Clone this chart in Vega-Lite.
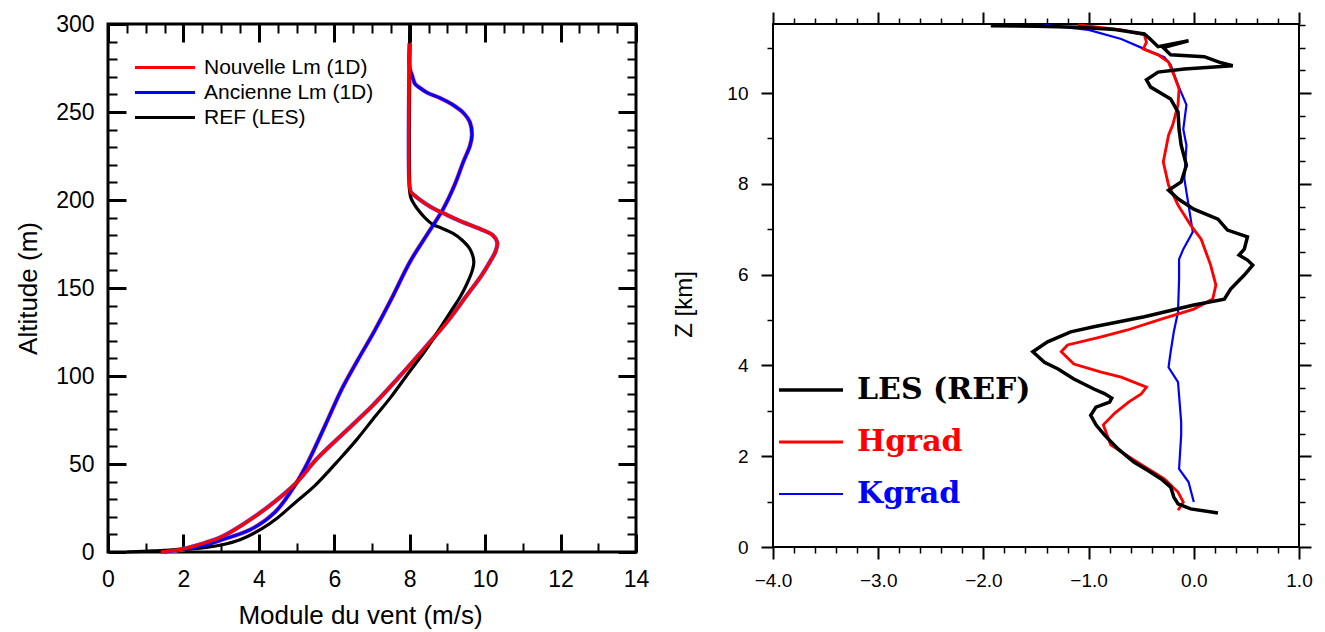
{
  "$schema": "https://vega.github.io/schema/vega-lite/v6.json",
  "background": "white",
  "padding": {"left": 14, "top": 10, "right": 5, "bottom": 2},
  "spacing": 20,
  "config": {"font": "Liberation Sans"},
  "datasets": {
    "left": [
      {"series": "REF (LES)", "u": 0.5, "alt": 0},
      {"series": "REF (LES)", "u": 1.2, "alt": 0.6},
      {"series": "REF (LES)", "u": 2.0, "alt": 1.5},
      {"series": "REF (LES)", "u": 2.6, "alt": 2.6},
      {"series": "REF (LES)", "u": 3.0, "alt": 4},
      {"series": "REF (LES)", "u": 3.5, "alt": 7},
      {"series": "REF (LES)", "u": 4.06, "alt": 13},
      {"series": "REF (LES)", "u": 4.5, "alt": 19.5},
      {"series": "REF (LES)", "u": 4.96, "alt": 28},
      {"series": "REF (LES)", "u": 5.5, "alt": 38},
      {"series": "REF (LES)", "u": 6.15, "alt": 53},
      {"series": "REF (LES)", "u": 6.6, "alt": 64},
      {"series": "REF (LES)", "u": 7.03, "alt": 75.6},
      {"series": "REF (LES)", "u": 7.5, "alt": 88},
      {"series": "REF (LES)", "u": 7.93, "alt": 100.6},
      {"series": "REF (LES)", "u": 8.4, "alt": 114},
      {"series": "REF (LES)", "u": 8.8, "alt": 127},
      {"series": "REF (LES)", "u": 9.1, "alt": 137},
      {"series": "REF (LES)", "u": 9.34, "alt": 145},
      {"series": "REF (LES)", "u": 9.53, "alt": 153},
      {"series": "REF (LES)", "u": 9.66, "alt": 160},
      {"series": "REF (LES)", "u": 9.7, "alt": 165},
      {"series": "REF (LES)", "u": 9.6, "alt": 172},
      {"series": "REF (LES)", "u": 9.4, "alt": 177},
      {"series": "REF (LES)", "u": 9.15, "alt": 181},
      {"series": "REF (LES)", "u": 8.85, "alt": 184},
      {"series": "REF (LES)", "u": 8.62, "alt": 186},
      {"series": "REF (LES)", "u": 8.4, "alt": 190},
      {"series": "REF (LES)", "u": 8.2, "alt": 195},
      {"series": "REF (LES)", "u": 8.08, "alt": 199},
      {"series": "REF (LES)", "u": 8.02, "alt": 202},
      {"series": "REF (LES)", "u": 8.0, "alt": 205},
      {"series": "REF (LES)", "u": 8.0, "alt": 300},
      {"series": "Ancienne Lm (1D)", "u": 1.5, "alt": 0},
      {"series": "Ancienne Lm (1D)", "u": 2.04, "alt": 1.7},
      {"series": "Ancienne Lm (1D)", "u": 2.5, "alt": 3.5},
      {"series": "Ancienne Lm (1D)", "u": 3.0, "alt": 6.8},
      {"series": "Ancienne Lm (1D)", "u": 3.8, "alt": 13},
      {"series": "Ancienne Lm (1D)", "u": 4.43, "alt": 22.7},
      {"series": "Ancienne Lm (1D)", "u": 4.96, "alt": 38},
      {"series": "Ancienne Lm (1D)", "u": 5.3, "alt": 51},
      {"series": "Ancienne Lm (1D)", "u": 5.76, "alt": 72},
      {"series": "Ancienne Lm (1D)", "u": 6.2, "alt": 92.6},
      {"series": "Ancienne Lm (1D)", "u": 6.62, "alt": 109},
      {"series": "Ancienne Lm (1D)", "u": 7.05, "alt": 125},
      {"series": "Ancienne Lm (1D)", "u": 7.52, "alt": 144},
      {"series": "Ancienne Lm (1D)", "u": 8.01, "alt": 165},
      {"series": "Ancienne Lm (1D)", "u": 8.45, "alt": 180},
      {"series": "Ancienne Lm (1D)", "u": 8.89, "alt": 195},
      {"series": "Ancienne Lm (1D)", "u": 9.2, "alt": 209},
      {"series": "Ancienne Lm (1D)", "u": 9.42, "alt": 221.6},
      {"series": "Ancienne Lm (1D)", "u": 9.6, "alt": 231},
      {"series": "Ancienne Lm (1D)", "u": 9.65, "alt": 237},
      {"series": "Ancienne Lm (1D)", "u": 9.6, "alt": 244},
      {"series": "Ancienne Lm (1D)", "u": 9.4, "alt": 250},
      {"series": "Ancienne Lm (1D)", "u": 9.15, "alt": 254},
      {"series": "Ancienne Lm (1D)", "u": 8.8, "alt": 258},
      {"series": "Ancienne Lm (1D)", "u": 8.46, "alt": 261},
      {"series": "Ancienne Lm (1D)", "u": 8.25, "alt": 264},
      {"series": "Ancienne Lm (1D)", "u": 8.14, "alt": 266},
      {"series": "Ancienne Lm (1D)", "u": 8.06, "alt": 271},
      {"series": "Ancienne Lm (1D)", "u": 8.0, "alt": 275},
      {"series": "Ancienne Lm (1D)", "u": 8.0, "alt": 289},
      {"series": "Nouvelle Lm (1D)", "u": 1.4, "alt": 0},
      {"series": "Nouvelle Lm (1D)", "u": 2.0, "alt": 1.8},
      {"series": "Nouvelle Lm (1D)", "u": 2.47, "alt": 4.5},
      {"series": "Nouvelle Lm (1D)", "u": 3.0, "alt": 8.5},
      {"series": "Nouvelle Lm (1D)", "u": 3.53, "alt": 15},
      {"series": "Nouvelle Lm (1D)", "u": 4.24, "alt": 25.6},
      {"series": "Nouvelle Lm (1D)", "u": 4.96, "alt": 38.6},
      {"series": "Nouvelle Lm (1D)", "u": 5.54, "alt": 53},
      {"series": "Nouvelle Lm (1D)", "u": 6.37, "alt": 70},
      {"series": "Nouvelle Lm (1D)", "u": 7.03, "alt": 83.5},
      {"series": "Nouvelle Lm (1D)", "u": 7.7, "alt": 99},
      {"series": "Nouvelle Lm (1D)", "u": 8.36, "alt": 115},
      {"series": "Nouvelle Lm (1D)", "u": 9.0, "alt": 131},
      {"series": "Nouvelle Lm (1D)", "u": 9.52, "alt": 146},
      {"series": "Nouvelle Lm (1D)", "u": 9.9, "alt": 157},
      {"series": "Nouvelle Lm (1D)", "u": 10.13, "alt": 165},
      {"series": "Nouvelle Lm (1D)", "u": 10.28, "alt": 171},
      {"series": "Nouvelle Lm (1D)", "u": 10.32, "alt": 176},
      {"series": "Nouvelle Lm (1D)", "u": 10.2, "alt": 180},
      {"series": "Nouvelle Lm (1D)", "u": 9.87, "alt": 183.5},
      {"series": "Nouvelle Lm (1D)", "u": 9.4, "alt": 187.5},
      {"series": "Nouvelle Lm (1D)", "u": 8.99, "alt": 191.5},
      {"series": "Nouvelle Lm (1D)", "u": 8.6, "alt": 195.5},
      {"series": "Nouvelle Lm (1D)", "u": 8.28, "alt": 200},
      {"series": "Nouvelle Lm (1D)", "u": 8.1, "alt": 203},
      {"series": "Nouvelle Lm (1D)", "u": 8.03, "alt": 204.5},
      {"series": "Nouvelle Lm (1D)", "u": 8.0, "alt": 207},
      {"series": "Nouvelle Lm (1D)", "u": 8.0, "alt": 289}
    ],
    "right": [
      {"curve": "Kgrad", "u": -1.42, "z": 11.5},
      {"curve": "Kgrad", "u": -1.0, "z": 11.39},
      {"curve": "Kgrad", "u": -0.69, "z": 11.19},
      {"curve": "Kgrad", "u": -0.45, "z": 10.95},
      {"curve": "Kgrad", "u": -0.28, "z": 10.79},
      {"curve": "Kgrad", "u": -0.22, "z": 10.62},
      {"curve": "Kgrad", "u": -0.15, "z": 10.18},
      {"curve": "Kgrad", "u": -0.07, "z": 9.74},
      {"curve": "Kgrad", "u": -0.1, "z": 9.2},
      {"curve": "Kgrad", "u": -0.07, "z": 8.85},
      {"curve": "Kgrad", "u": -0.09, "z": 8.11},
      {"curve": "Kgrad", "u": -0.05, "z": 7.53},
      {"curve": "Kgrad", "u": -0.01, "z": 6.94},
      {"curve": "Kgrad", "u": -0.1, "z": 6.56},
      {"curve": "Kgrad", "u": -0.14, "z": 6.34},
      {"curve": "Kgrad", "u": -0.14, "z": 5.9},
      {"curve": "Kgrad", "u": -0.15, "z": 5.18},
      {"curve": "Kgrad", "u": -0.19, "z": 4.74},
      {"curve": "Kgrad", "u": -0.22, "z": 4.3},
      {"curve": "Kgrad", "u": -0.24, "z": 3.96},
      {"curve": "Kgrad", "u": -0.15, "z": 3.63},
      {"curve": "Kgrad", "u": -0.12, "z": 2.75},
      {"curve": "Kgrad", "u": -0.12, "z": 2.47},
      {"curve": "Kgrad", "u": -0.14, "z": 1.72},
      {"curve": "Kgrad", "u": -0.05, "z": 1.43},
      {"curve": "Kgrad", "u": 0.0, "z": 0.99},
      {"curve": "Hgrad", "u": -1.1, "z": 11.5},
      {"curve": "Hgrad", "u": -0.69, "z": 11.39},
      {"curve": "Hgrad", "u": -0.47, "z": 11.28},
      {"curve": "Hgrad", "u": -0.45, "z": 11.12},
      {"curve": "Hgrad", "u": -0.48, "z": 10.97},
      {"curve": "Hgrad", "u": -0.34, "z": 10.84},
      {"curve": "Hgrad", "u": -0.24, "z": 10.68},
      {"curve": "Hgrad", "u": -0.19, "z": 10.4},
      {"curve": "Hgrad", "u": -0.14, "z": 10.09},
      {"curve": "Hgrad", "u": -0.15, "z": 9.74},
      {"curve": "Hgrad", "u": -0.2, "z": 9.3},
      {"curve": "Hgrad", "u": -0.24, "z": 9.07},
      {"curve": "Hgrad", "u": -0.29, "z": 8.48},
      {"curve": "Hgrad", "u": -0.24, "z": 7.97},
      {"curve": "Hgrad", "u": -0.15, "z": 7.53},
      {"curve": "Hgrad", "u": -0.03, "z": 7.09},
      {"curve": "Hgrad", "u": 0.07, "z": 6.78},
      {"curve": "Hgrad", "u": 0.16, "z": 6.21},
      {"curve": "Hgrad", "u": 0.21, "z": 5.77},
      {"curve": "Hgrad", "u": 0.18, "z": 5.46},
      {"curve": "Hgrad", "u": 0.0, "z": 5.24},
      {"curve": "Hgrad", "u": -0.31, "z": 5.02},
      {"curve": "Hgrad", "u": -0.63, "z": 4.78},
      {"curve": "Hgrad", "u": -0.88, "z": 4.63},
      {"curve": "Hgrad", "u": -1.2, "z": 4.45},
      {"curve": "Hgrad", "u": -1.26, "z": 4.3},
      {"curve": "Hgrad", "u": -1.14, "z": 4.03},
      {"curve": "Hgrad", "u": -0.88, "z": 3.85},
      {"curve": "Hgrad", "u": -0.69, "z": 3.74},
      {"curve": "Hgrad", "u": -0.45, "z": 3.52},
      {"curve": "Hgrad", "u": -0.5, "z": 3.37},
      {"curve": "Hgrad", "u": -0.62, "z": 3.19},
      {"curve": "Hgrad", "u": -0.75, "z": 2.95},
      {"curve": "Hgrad", "u": -0.86, "z": 2.69},
      {"curve": "Hgrad", "u": -0.79, "z": 2.25},
      {"curve": "Hgrad", "u": -0.57, "z": 1.92},
      {"curve": "Hgrad", "u": -0.28, "z": 1.5},
      {"curve": "Hgrad", "u": -0.15, "z": 1.21},
      {"curve": "Hgrad", "u": -0.1, "z": 0.99},
      {"curve": "Hgrad", "u": -0.15, "z": 0.81},
      {"curve": "LES (REF)", "u": -1.93, "z": 11.48},
      {"curve": "LES (REF)", "u": -1.5, "z": 11.47},
      {"curve": "LES (REF)", "u": -1.1, "z": 11.45},
      {"curve": "LES (REF)", "u": -0.75, "z": 11.4},
      {"curve": "LES (REF)", "u": -0.47, "z": 11.3},
      {"curve": "LES (REF)", "u": -0.42, "z": 11.2},
      {"curve": "LES (REF)", "u": -0.34, "z": 11.02},
      {"curve": "LES (REF)", "u": -0.05, "z": 11.15},
      {"curve": "LES (REF)", "u": -0.29, "z": 11.0},
      {"curve": "LES (REF)", "u": -0.22, "z": 10.84},
      {"curve": "LES (REF)", "u": 0.1, "z": 10.8},
      {"curve": "LES (REF)", "u": 0.24, "z": 10.68},
      {"curve": "LES (REF)", "u": 0.37, "z": 10.6},
      {"curve": "LES (REF)", "u": -0.09, "z": 10.53},
      {"curve": "LES (REF)", "u": -0.34, "z": 10.46},
      {"curve": "LES (REF)", "u": -0.45, "z": 10.29},
      {"curve": "LES (REF)", "u": -0.41, "z": 10.13},
      {"curve": "LES (REF)", "u": -0.22, "z": 9.87},
      {"curve": "LES (REF)", "u": -0.15, "z": 9.58},
      {"curve": "LES (REF)", "u": -0.14, "z": 9.2},
      {"curve": "LES (REF)", "u": -0.12, "z": 8.85},
      {"curve": "LES (REF)", "u": -0.07, "z": 8.41},
      {"curve": "LES (REF)", "u": -0.12, "z": 8.04},
      {"curve": "LES (REF)", "u": -0.24, "z": 7.86},
      {"curve": "LES (REF)", "u": -0.15, "z": 7.67},
      {"curve": "LES (REF)", "u": 0.0, "z": 7.44},
      {"curve": "LES (REF)", "u": 0.23, "z": 7.22},
      {"curve": "LES (REF)", "u": 0.32, "z": 6.98},
      {"curve": "LES (REF)", "u": 0.51, "z": 6.83},
      {"curve": "LES (REF)", "u": 0.48, "z": 6.56},
      {"curve": "LES (REF)", "u": 0.43, "z": 6.43},
      {"curve": "LES (REF)", "u": 0.51, "z": 6.32},
      {"curve": "LES (REF)", "u": 0.56, "z": 6.21},
      {"curve": "LES (REF)", "u": 0.48, "z": 5.99},
      {"curve": "LES (REF)", "u": 0.35, "z": 5.68},
      {"curve": "LES (REF)", "u": 0.29, "z": 5.46},
      {"curve": "LES (REF)", "u": 0.0, "z": 5.33},
      {"curve": "LES (REF)", "u": -0.47, "z": 5.07},
      {"curve": "LES (REF)", "u": -0.95, "z": 4.85},
      {"curve": "LES (REF)", "u": -1.17, "z": 4.74},
      {"curve": "LES (REF)", "u": -1.39, "z": 4.52},
      {"curve": "LES (REF)", "u": -1.53, "z": 4.3},
      {"curve": "LES (REF)", "u": -1.42, "z": 4.07},
      {"curve": "LES (REF)", "u": -1.29, "z": 3.92},
      {"curve": "LES (REF)", "u": -1.14, "z": 3.7},
      {"curve": "LES (REF)", "u": -0.95, "z": 3.48},
      {"curve": "LES (REF)", "u": -0.85, "z": 3.38},
      {"curve": "LES (REF)", "u": -0.78, "z": 3.28},
      {"curve": "LES (REF)", "u": -0.8, "z": 3.19},
      {"curve": "LES (REF)", "u": -0.93, "z": 3.08},
      {"curve": "LES (REF)", "u": -0.98, "z": 2.9},
      {"curve": "LES (REF)", "u": -0.93, "z": 2.69},
      {"curve": "LES (REF)", "u": -0.85, "z": 2.47},
      {"curve": "LES (REF)", "u": -0.72, "z": 2.16},
      {"curve": "LES (REF)", "u": -0.57, "z": 1.87},
      {"curve": "LES (REF)", "u": -0.44, "z": 1.69},
      {"curve": "LES (REF)", "u": -0.31, "z": 1.5},
      {"curve": "LES (REF)", "u": -0.22, "z": 1.32},
      {"curve": "LES (REF)", "u": -0.19, "z": 1.1},
      {"curve": "LES (REF)", "u": -0.15, "z": 0.95},
      {"curve": "LES (REF)", "u": -0.03, "z": 0.84},
      {"curve": "LES (REF)", "u": 0.23, "z": 0.75}
    ]
  },
  "hconcat": [
    {
      "width": 528,
      "height": 528,
      "view": {"stroke": "black", "strokeWidth": 3},
      "data": {"name": "left"},
      "layer": [
        {
          "transform": [{"filter": "datum.series !== 'REF (LES)'"}],
          "mark": {"type": "line", "strokeWidth": 4.4, "interpolate": "catmull-rom"},
          "encoding": {
            "x": {
              "field": "u", "type": "quantitative",
              "scale": {"domain": [0, 14], "nice": false, "zero": false},
              "axis": {
                "orient": "bottom",
                "values": [0,0.5,1,1.5,2,2.5,3,3.5,4,4.5,5,5.5,6,6.5,7,7.5,8,8.5,9,9.5,10,10.5,11,11.5,12,12.5,13,13.5,14],
                "format": "d",
                "labelExpr": "datum.value % 2 === 0 ? datum.label : ''",
                "tickSize": {"condition": {"test": "datum.value % 2 === 0", "value": -18}, "value": -9},
                "tickWidth": {"condition": {"test": "datum.value % 2 === 0", "value": 3}, "value": 2},
                "tickColor": "black",
                "domain": false, "grid": false,
                "labelFont": "Liberation Sans", "labelFontSize": 23, "labelColor": "black",
                "labelPadding": 34, "labelOverlap": false, "labelFlush": false,
                "title": "Module du vent (m/s)",
                "titleFont": "Liberation Sans", "titleFontSize": 26, "titleFontWeight": "normal",
                "titleColor": "black", "titlePadding": 2, "titleX": 252
              }
            },
            "y": {
              "field": "alt", "type": "quantitative",
              "scale": {"domain": [0, 300], "nice": false, "zero": false},
              "axis": {
                "orient": "left",
                "values": [0,10,20,30,40,50,60,70,80,90,100,110,120,130,140,150,160,170,180,190,200,210,220,230,240,250,260,270,280,290,300],
                "format": "d",
                "labelExpr": "datum.value % 50 === 0 ? datum.label : ''",
                "tickSize": {"condition": {"test": "datum.value % 50 === 0", "value": -18}, "value": -9},
                "tickWidth": {"condition": {"test": "datum.value % 50 === 0", "value": 3}, "value": 2},
                "tickColor": "black",
                "domain": false, "grid": false,
                "labelFont": "Liberation Sans", "labelFontSize": 23, "labelColor": "black",
                "labelPadding": 32, "labelOverlap": false, "labelFlush": false,
                "title": "Altitude (m)",
                "titleFont": "Liberation Sans", "titleFontSize": 26, "titleFontWeight": "normal",
                "titleColor": "black", "titlePadding": 14
              }
            },
            "stroke": {
              "field": "series", "type": "nominal",
              "scale": {"domain": ["Nouvelle Lm (1D)", "Ancienne Lm (1D)"], "range": ["#5050ff", "#ff5050"]},
              "legend": null
            },
            "order": {"value": null}
          }
        },
        {
          "mark": {"type": "line", "interpolate": "catmull-rom"},
          "encoding": {
            "x": {
              "field": "u", "type": "quantitative",
              "axis": {
                "orient": "top",
                "values": [0,0.5,1,1.5,2,2.5,3,3.5,4,4.5,5,5.5,6,6.5,7,7.5,8,8.5,9,9.5,10,10.5,11,11.5,12,12.5,13,13.5,14],
                "labels": false, "title": null, "domain": false, "grid": false,
                "tickSize": {"condition": {"test": "datum.value % 2 === 0", "value": -18}, "value": -9},
                "tickWidth": {"condition": {"test": "datum.value % 2 === 0", "value": 3}, "value": 2},
                "tickColor": "black"
              }
            },
            "y": {
              "field": "alt", "type": "quantitative",
              "axis": {
                "orient": "right",
                "values": [0,10,20,30,40,50,60,70,80,90,100,110,120,130,140,150,160,170,180,190,200,210,220,230,240,250,260,270,280,290,300],
                "labels": false, "title": null, "domain": false, "grid": false,
                "tickSize": {"condition": {"test": "datum.value % 50 === 0", "value": -18}, "value": -9},
                "tickWidth": {"condition": {"test": "datum.value % 50 === 0", "value": 3}, "value": 2},
                "tickColor": "black"
              }
            },
            "color": {
              "field": "series", "type": "nominal",
              "scale": {"domain": ["Nouvelle Lm (1D)", "Ancienne Lm (1D)", "REF (LES)"], "range": ["#ff0000", "#0000ff", "#000000"]},
              "legend": {
                "orient": "none", "legendX": 25, "legendY": 31,
                "title": null, "padding": 0,
                "symbolType": "stroke", "symbolSize": 3600, "symbolStrokeWidth": 3.5,
                "clipHeight": 25, "rowPadding": 0,
                "labelFont": "Liberation Sans", "labelFontSize": 21, "labelColor": "black",
                "labelOffset": 7, "labelLimit": 400
              }
            },
            "strokeWidth": {
              "field": "series", "type": "nominal",
              "scale": {"domain": ["Nouvelle Lm (1D)", "Ancienne Lm (1D)", "REF (LES)"], "range": [3.2, 3.2, 4]},
              "legend": null
            },
            "order": {"value": null}
          }
        }
      ]
    },
    {
      "width": 526,
      "height": 523,
      "view": {"stroke": "black", "strokeWidth": 2},
      "data": {"name": "right"},
      "layer": [
        {
          "mark": {"type": "line"},
          "encoding": {
            "x": {
              "field": "u", "type": "quantitative",
              "scale": {"domain": [-4, 1], "nice": false, "zero": false},
              "axis": {
                "orient": "bottom",
                "values": [-4,-3.8,-3.6,-3.4,-3.2,-3,-2.8,-2.6,-2.4,-2.2,-2,-1.8,-1.6,-1.4,-1.2,-1,-0.8,-0.6,-0.4,-0.2,0,0.2,0.4,0.6,0.8,1],
                "format": ".1f",
                "labelExpr": "abs(datum.value - round(datum.value)) < 0.01 ? datum.label : ''",
                "tickSize": {"condition": {"test": "abs(datum.value - round(datum.value)) < 0.01", "value": 12}, "value": 6},
                "tickWidth": {"condition": {"test": "abs(datum.value - round(datum.value)) < 0.01", "value": 2}, "value": 1.5},
                "tickColor": "black",
                "domain": false, "grid": false,
                "labelFont": "Liberation Sans", "labelFontSize": 19, "labelColor": "black",
                "labelPadding": 12, "labelOverlap": false, "labelFlush": false,
                "title": null
              }
            },
            "y": {
              "field": "z", "type": "quantitative",
              "scale": {"domain": [0, 11.52], "nice": false, "zero": false},
              "axis": {
                "orient": "left",
                "values": [0,0.5,1,1.5,2,2.5,3,3.5,4,4.5,5,5.5,6,6.5,7,7.5,8,8.5,9,9.5,10,10.5,11,11.5],
                "format": "d",
                "labelExpr": "datum.value % 2 === 0 ? datum.label : ''",
                "tickSize": {"condition": {"test": "datum.value % 2 === 0", "value": 12}, "value": 6},
                "tickWidth": {"condition": {"test": "datum.value % 2 === 0", "value": 2}, "value": 1.5},
                "tickColor": "black",
                "domain": false, "grid": false,
                "labelFont": "Liberation Sans", "labelFontSize": 19, "labelColor": "black",
                "labelPadding": 13, "labelOverlap": false, "labelFlush": false,
                "title": "Z [km]",
                "titleFont": "Liberation Sans", "titleFontSize": 24, "titleFontWeight": "normal",
                "titleColor": "black", "titlePadding": 30, "titleY": 280
              }
            },
            "color": {
              "field": "curve", "type": "nominal",
              "scale": {"domain": ["LES (REF)", "Hgrad", "Kgrad"], "range": ["#000000", "#ff0000", "#0000ff"]},
              "legend": {
                "orient": "none", "legendX": 4, "legendY": 340,
                "title": null, "padding": 0,
                "symbolType": "stroke", "symbolSize": 4096, "symbolStrokeWidth": 2.5,
                "clipHeight": 52, "rowPadding": 0,
                "labelFont": "DejaVu Serif", "labelFontSize": 30, "labelFontWeight": "bold",
                "labelOffset": 12, "labelLimit": 400,
                "encode": {
                  "labels": {
                    "update": {
                      "fill": {"signal": "datum.label === 'Hgrad' ? '#ff0000' : (datum.label === 'Kgrad' ? '#0000ff' : '#000000')"}
                    }
                  }
                }
              }
            },
            "strokeWidth": {
              "field": "curve", "type": "nominal",
              "scale": {"domain": ["LES (REF)", "Hgrad", "Kgrad"], "range": [3.5, 2.2, 2.2]},
              "legend": null
            },
            "order": {"value": null}
          }
        },
        {
          "mark": {"type": "point", "opacity": 0},
          "encoding": {
            "x": {
              "field": "u", "type": "quantitative",
              "axis": {
                "orient": "top",
                "values": [-4,-3.8,-3.6,-3.4,-3.2,-3,-2.8,-2.6,-2.4,-2.2,-2,-1.8,-1.6,-1.4,-1.2,-1,-0.8,-0.6,-0.4,-0.2,0,0.2,0.4,0.6,0.8,1],
                "labels": false, "title": null, "domain": false, "grid": false,
                "tickSize": {"condition": {"test": "abs(datum.value - round(datum.value)) < 0.01", "value": 12}, "value": 6},
                "tickWidth": {"condition": {"test": "abs(datum.value - round(datum.value)) < 0.01", "value": 2}, "value": 1.5},
                "tickColor": "black"
              }
            },
            "y": {
              "field": "z", "type": "quantitative",
              "axis": {
                "orient": "right",
                "values": [0,0.5,1,1.5,2,2.5,3,3.5,4,4.5,5,5.5,6,6.5,7,7.5,8,8.5,9,9.5,10,10.5,11,11.5],
                "labels": false, "title": null, "domain": false, "grid": false,
                "tickSize": {"condition": {"test": "datum.value % 2 === 0", "value": 12}, "value": 6},
                "tickWidth": {"condition": {"test": "datum.value % 2 === 0", "value": 2}, "value": 1.5},
                "tickColor": "black"
              }
            }
          }
        }
      ]
    }
  ],
  "resolve": {"scale": {"color": "independent", "strokeWidth": "independent", "stroke": "independent"}, "legend": {"color": "independent"}}
}
